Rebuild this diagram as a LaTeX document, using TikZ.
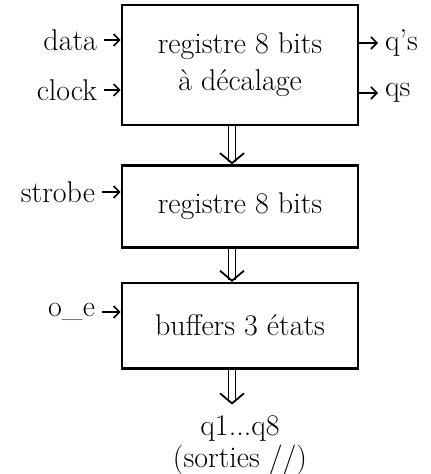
\documentclass[tikz,border=0pt]{standalone}
\usepackage{fontspec}
\usetikzlibrary{arrows.meta,positioning}

\begin{document}
\begin{tikzpicture}[>={Straight Barb[length=3pt,width=6pt]}, font=\fontsize{15}{18.5}\selectfont,
	   b/.style={draw, line width=1.3pt, align=center, minimum width=118pt},
	   sig/.style={->, line width=0.8pt},
	   bus/.style={double, double distance=2.6pt, line width=0.9pt, -{Straight Barb[length=5pt,width=12pt,line width=0.9pt]}}]
	  \useasboundingbox (0,0) rectangle (215pt,-237pt);
	  \node[b, minimum height=60pt] (r1) at (120pt,-32.5pt) {registre 8 bits\\ à décalage};
	  \node[b, minimum height=41pt, below=19pt of r1] (r2) {registre 8 bits};
	  \node[b, minimum height=42.5pt, below=16.5pt of r2] (r3) {buffers 3 états};
	  \node[below=19.5pt of r3, align=center, font=\fontsize{15}{16}\selectfont] (q) {q1...q8\\ (sorties //)};
	  % entrees
	  \node[anchor=east] (data) at (52pt,-20pt) {data};
	  \node[anchor=east] (clk) at (52pt,-45pt) {clock};
	  \node[anchor=east] (stb) at (51pt,-96pt) {strobe};
	  \node[anchor=east] (oe) at (51pt,-156pt) {o\_e};
	  \draw[sig] (data) -- (data -| r1.west);
	  \draw[sig] (clk) -- (clk -| r1.west);
	  \draw[sig] (stb) -- (stb -| r2.west);
	  \draw[sig] (oe) -- (oe -| r3.west);
	  % sorties
	  \node[anchor=west] (qps) at (189pt,-21.5pt) {q's};
	  \node[anchor=west] (qs) at (189pt,-46.5pt) {qs};
	  \draw[sig] (qps -| r1.east) -- (qps);
	  \draw[sig] (qs -| r1.east) -- (qs);
	  % bus
	  \draw[bus] ([xshift=-4pt]r1.south) -- ([xshift=-4pt]r2.north);
	  \draw[bus] ([xshift=-4pt]r2.south) -- ([xshift=-4pt]r3.north);
	  \draw[bus, shorten >=2pt] ([xshift=-4pt]r3.south) -- ([xshift=-4pt]q.north);
	\end{tikzpicture}
\end{document}
